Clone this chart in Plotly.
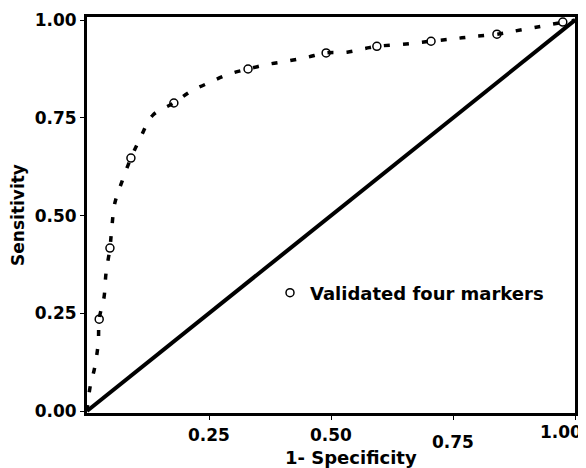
import plotly.graph_objects as go

# Observed (validated) ROC points
pts_fpr = [0.025, 0.047, 0.09, 0.178, 0.33, 0.49, 0.594, 0.705, 0.84, 0.975]
pts_tpr = [0.235, 0.417, 0.647, 0.788, 0.875, 0.916, 0.933, 0.946, 0.964, 0.995]

# Fitted ROC curve (dashed)
curve_fpr = [0, 0.006, 0.016, 0.023, 0.025, 0.035, 0.039, 0.047, 0.051, 0.057, 0.072,
             0.09, 0.109, 0.135, 0.178, 0.213, 0.252, 0.291, 0.33, 0.371, 0.41, 0.451,
             0.49, 0.533, 0.572, 0.594, 0.654, 0.705, 0.75, 0.791, 0.84, 0.898, 1.0]
curve_tpr = [0, 0.059, 0.113, 0.174, 0.235, 0.292, 0.353, 0.417, 0.471, 0.532, 0.588,
             0.647, 0.698, 0.757, 0.788, 0.818, 0.841, 0.862, 0.875, 0.887, 0.895, 0.905,
             0.916, 0.918, 0.928, 0.933, 0.939, 0.946, 0.952, 0.958, 0.964, 0.977, 1.0]

# Reference (chance) line
ref_x = [0, 1]
ref_y = [0, 1]

y_ticks = [0.0, 0.25, 0.5, 0.75, 1.0]
y_labels = ["0.00", "0.25", "0.50", "0.75", "1.00"]
x_ticks = [0.25, 0.5, 0.75, 1.0]
x_labels = ["0.25", "0.50", "0.75", "1.00"]
x_title = "1- Specificity"
y_title = "Sensitivity"
series_name = "Validated four markers"

FONT = "DejaVu Sans"

fig = go.Figure()
fig.add_trace(go.Scatter(x=ref_x, y=ref_y, mode="lines",
                         line=dict(color="black", width=4), showlegend=False,
                         hoverinfo="skip"))
fig.add_trace(go.Scatter(x=curve_fpr, y=curve_tpr, mode="lines",
                         line=dict(color="black", width=3.5, dash="6px,13px", shape="spline"),
                         showlegend=False, hoverinfo="skip"))
fig.add_trace(go.Scatter(x=pts_fpr, y=pts_tpr, mode="markers",
                         name=f"<b>{series_name}</b>",
                         marker=dict(symbol="circle-open", size=8, color="black",
                                     line=dict(width=1.5, color="black"))))

# x tick labels (placed individually to follow the original layout)
x_shift = [0, 0, 0, -14]
y_shift = [0, 0, -7, 3]
for v, t, dx, dy in zip(x_ticks, x_labels, x_shift, y_shift):
    fig.add_annotation(x=v, y=0, xref="x", yref="paper", text=f"<b>{t}</b>",
                       showarrow=False, yanchor="top", xshift=dx, yshift=-10 + dy,
                       font=dict(family=FONT, size=17, color="black"))

# x axis title (offset to the right, as in the original)
fig.add_annotation(x=0.5, y=0, xref="paper", yref="paper", text=f"<b>{x_title}</b>",
                   showarrow=False, yanchor="top", xshift=20, yshift=-32,
                   font=dict(family=FONT, size=18, color="black"))

fig.update_layout(
    width=578, height=460,
    margin=dict(l=79, r=11, t=9, b=55, pad=0),
    paper_bgcolor="white", plot_bgcolor="white",
    font=dict(family=FONT, size=16, color="black"),
    showlegend=True,
    legend=dict(x=0.375, y=0.303, xanchor="left", yanchor="middle",
                bgcolor="rgba(0,0,0,0)", borderwidth=0,
                font=dict(family=FONT, size=18, color="black"),
                itemwidth=30),
    xaxis=dict(range=[0, 1], tickvals=x_ticks, showticklabels=False,
               ticks="outside", ticklen=4, tickwidth=1, tickcolor="black",
               showgrid=False, zeroline=False,
               showline=True, linecolor="black", linewidth=3, mirror=True),
    yaxis=dict(range=[-0.005, 1.008], tickvals=y_ticks, ticktext=[f"<b>{t}</b>" for t in y_labels],
               ticks="outside", ticklen=4, tickwidth=1, tickcolor="black",
               showgrid=False, zeroline=False,
               showline=True, linecolor="black", linewidth=3, mirror=True,
               tickfont=dict(family=FONT, size=17, color="black"),
               title=dict(text=f"<b>{y_title}</b>", standoff=19,
                          font=dict(family=FONT, size=17, color="black"))),
)
fig.update_xaxes(automargin=False)
fig.update_yaxes(automargin=False)

fig.write_html("out.html")
